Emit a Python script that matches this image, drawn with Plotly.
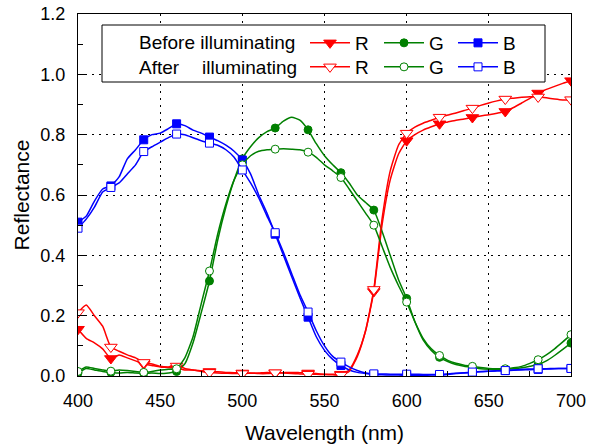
import plotly.graph_objects as go

wavelength = list(range(400, 701, 5))

red_before = [0.155, 0.125, 0.11, 0.09, 0.058, 0.07, 0.06, 0.05, 0.04, 0.035,
              0.03, 0.028, 0.025, 0.02, 0.02, 0.017, 0.015, 0.014, 0.012, 0.011,
              0.01, 0.01, 0.008, 0.008, 0.01, 0.011, 0.012, 0.011, 0.01, 0.008,
              0.006, 0.006, 0.006, 0.02, 0.07, 0.15, 0.28, 0.50, 0.65, 0.735,
              0.78, 0.80, 0.815, 0.826, 0.836, 0.842, 0.848, 0.852, 0.857, 0.862,
              0.866, 0.871, 0.877, 0.89, 0.905, 0.92, 0.938, 0.95, 0.96, 0.97,
              0.979]
red_after = [0.21, 0.235, 0.20, 0.165, 0.096, 0.082, 0.07, 0.06, 0.045, 0.04,
             0.032, 0.03, 0.033, 0.025, 0.02, 0.015, 0.012, 0.01, 0.009, 0.008,
             0.008, 0.009, 0.01, 0.012, 0.011, 0.01, 0.008, 0.007, 0.006, 0.006,
             0.005, 0.004, 0.003, 0.015, 0.065, 0.15, 0.287, 0.52, 0.68, 0.765,
             0.805, 0.825, 0.838, 0.848, 0.858, 0.865, 0.872, 0.88, 0.888, 0.897,
             0.905, 0.912, 0.918, 0.921, 0.924, 0.926, 0.925, 0.922, 0.918, 0.915,
             0.916]
green_before = [0.01, 0.025, 0.02, 0.015, 0.012, 0.01, 0.012, 0.01, 0.009, 0.01,
                0.008, 0.01, 0.015, 0.04, 0.11, 0.21, 0.315, 0.45, 0.56, 0.65,
                0.72, 0.76, 0.79, 0.81, 0.822, 0.845, 0.858, 0.848, 0.816, 0.77,
                0.73, 0.70, 0.674, 0.64, 0.60, 0.575, 0.55, 0.48, 0.40, 0.32,
                0.257, 0.18, 0.12, 0.085, 0.062, 0.048, 0.038, 0.032, 0.028, 0.024,
                0.022, 0.021, 0.022, 0.024, 0.027, 0.032, 0.038, 0.05, 0.068, 0.088,
                0.109]
green_after = [0.015, 0.03, 0.025, 0.02, 0.016, 0.02, 0.018, 0.015, 0.012, 0.015,
               0.02, 0.022, 0.024, 0.06, 0.13, 0.24, 0.348, 0.47, 0.57, 0.65,
               0.70, 0.73, 0.745, 0.75, 0.752, 0.753, 0.752, 0.75, 0.742, 0.725,
               0.70, 0.68, 0.658, 0.62, 0.58, 0.54, 0.50, 0.43, 0.36, 0.30,
               0.245, 0.18, 0.125, 0.09, 0.068, 0.052, 0.042, 0.036, 0.032, 0.028,
               0.025, 0.024, 0.024, 0.027, 0.032, 0.042, 0.054, 0.07, 0.09, 0.113,
               0.137]
blue_before = [0.51, 0.53, 0.58, 0.62, 0.63, 0.66, 0.72, 0.75, 0.783, 0.80,
               0.805, 0.82, 0.836, 0.83, 0.815, 0.805, 0.792, 0.78, 0.765, 0.745,
               0.716, 0.67, 0.60, 0.54, 0.47, 0.40, 0.33, 0.26, 0.195, 0.13,
               0.085, 0.055, 0.035, 0.02, 0.012, 0.008, 0.005, 0.004, 0.003, 0.003,
               0.002, 0.002, 0.002, 0.003, 0.003, 0.005, 0.008, 0.01, 0.012, 0.014,
               0.016, 0.017, 0.018, 0.019, 0.02, 0.021, 0.022, 0.023, 0.024, 0.025,
               0.025]
blue_after = [0.49, 0.52, 0.56, 0.61, 0.625, 0.64, 0.67, 0.70, 0.744, 0.76,
              0.775, 0.79, 0.802, 0.80, 0.79, 0.78, 0.772, 0.765, 0.75, 0.725,
              0.683, 0.64, 0.59, 0.53, 0.475, 0.41, 0.34, 0.27, 0.212, 0.15,
              0.10, 0.065, 0.046, 0.03, 0.018, 0.01, 0.007, 0.007, 0.006, 0.006,
              0.006, 0.006, 0.005, 0.005, 0.005, 0.007, 0.009, 0.011, 0.013, 0.015,
              0.016, 0.017, 0.018, 0.02, 0.022, 0.023, 0.024, 0.024, 0.025, 0.025,
              0.025]

x_ticks = [400, 450, 500, 550, 600, 650, 700]
y_ticks = [0.0, 0.2, 0.4, 0.6, 0.8, 1.0, 1.2]
MARK_EVERY = 4  # a marker every 20 nm

RED, GREEN, BLUE = "#ff0000", "#008000", "#0000ff"
FONT = "Liberation Sans, Arial, sans-serif"

series = [
    ("R", red_before, RED, "triangle-down", True, 11, "legend"),
    ("G", green_before, GREEN, "circle", True, 8, "legend"),
    ("B", blue_before, BLUE, "square", True, 8, "legend"),
    ("R", red_after, RED, "triangle-down", False, 11, "legend2"),
    ("G", green_after, GREEN, "circle", False, 8, "legend2"),
    ("B", blue_after, BLUE, "square", False, 8, "legend2"),
]

fig = go.Figure()
for name, ys, col, sym, filled, size, leg in series:
    mk = dict(symbol=sym, size=size, color=col if filled else "white",
              line=dict(color=col, width=1))
    fig.add_trace(go.Scatter(x=wavelength, y=ys, mode="lines",
                             line=dict(color=col, width=1.5, shape="spline", smoothing=0.5),
                             showlegend=False, hoverinfo="skip"))
    fig.add_trace(go.Scatter(x=wavelength[::MARK_EVERY], y=ys[::MARK_EVERY], mode="markers",
                             marker=mk, showlegend=False))
    fig.add_trace(go.Scatter(x=[None], y=[None], mode="lines+markers", name=name,
                             line=dict(color=col, width=1.5), marker=mk, legend=leg))

grid_dash = "2px,5px"
fig.update_xaxes(range=[400, 700], tickvals=x_ticks, ticktext=[str(v) for v in x_ticks],
                 ticks="inside", ticklen=7, tickcolor="black", tickwidth=1,
                 showline=True, linecolor="black", linewidth=1, mirror=True,
                 showgrid=True, gridcolor="black", gridwidth=1.2, griddash=grid_dash,
                 minor=dict(tickvals=[425, 475, 525, 575, 625, 675], ticks="inside",
                            ticklen=5, tickcolor="black", showgrid=False),
                 tickfont=dict(size=18, color="black", family=FONT),
                 ticklabelstandoff=8, automargin=False,
                 title=dict(text="Wavelength (nm)", font=dict(size=21, color="black", family=FONT),
                            standoff=15),
                 zeroline=False)
fig.update_yaxes(range=[0, 1.2], tickvals=y_ticks, ticktext=[f"{v:.1f}" for v in y_ticks],
                 ticks="inside", ticklen=7, tickcolor="black", tickwidth=1,
                 showline=True, linecolor="black", linewidth=1, mirror=True,
                 showgrid=True, gridcolor="black", gridwidth=1.2, griddash=grid_dash,
                 minor=dict(tickvals=[0.1, 0.3, 0.5, 0.7, 0.9, 1.1], ticks="inside",
                            ticklen=5, tickcolor="black", showgrid=False),
                 tickfont=dict(size=18, color="black", family=FONT),
                 ticklabelstandoff=8, automargin=False,
                 title=dict(text="Reflectance", font=dict(size=21, color="black", family=FONT),
                            standoff=5),
                 zeroline=False)

L, R, T, B = 78, 23, 14, 68
W, H = 594, 444
pw, ph = W - L - R, H - T - B

def px_x(p):
    return (p - L) / pw

def px_y(p):
    return (H - B - p) / ph

legend_common = dict(orientation="h", xanchor="left", yanchor="middle",
                     bgcolor="rgba(0,0,0,0)", borderwidth=0,
                     font=dict(size=19, color="black", family=FONT),
                     itemwidth=40, entrywidth=19, entrywidthmode="pixels",
                     traceorder="normal")
fig.update_layout(
    width=W, height=H,
    margin=dict(l=L, r=R, t=T, b=B, pad=0, autoexpand=False),
    paper_bgcolor="white", plot_bgcolor="white",
    font=dict(family=FONT, color="black"),
    legend=dict(x=px_x(305), y=px_y(43), **legend_common),
    legend2=dict(x=px_x(305), y=px_y(67), **legend_common),
    shapes=[dict(type="rect", xref="paper", yref="paper",
                 x0=px_x(102), x1=px_x(545), y0=px_y(82), y1=px_y(25),
                 line=dict(color="black", width=1), fillcolor="white", layer="above")],
    annotations=[
        dict(text="Before illuminating", xref="paper", yref="paper", x=px_x(137), y=px_y(43),
             xanchor="left", yanchor="middle", showarrow=False,
             font=dict(size=19, color="black", family=FONT)),
        dict(text="After", xref="paper", yref="paper", x=px_x(137), y=px_y(67),
             xanchor="left", yanchor="middle", showarrow=False,
             font=dict(size=19, color="black", family=FONT)),
        dict(text="illuminating", xref="paper", yref="paper", x=px_x(200), y=px_y(67),
             xanchor="left", yanchor="middle", showarrow=False,
             font=dict(size=19, color="black", family=FONT)),
    ],
)

fig.write_html("out.html", config={"displayModeBar": False},
               post_script="document.body.style.margin='0';document.body.style.overflow='hidden';")
